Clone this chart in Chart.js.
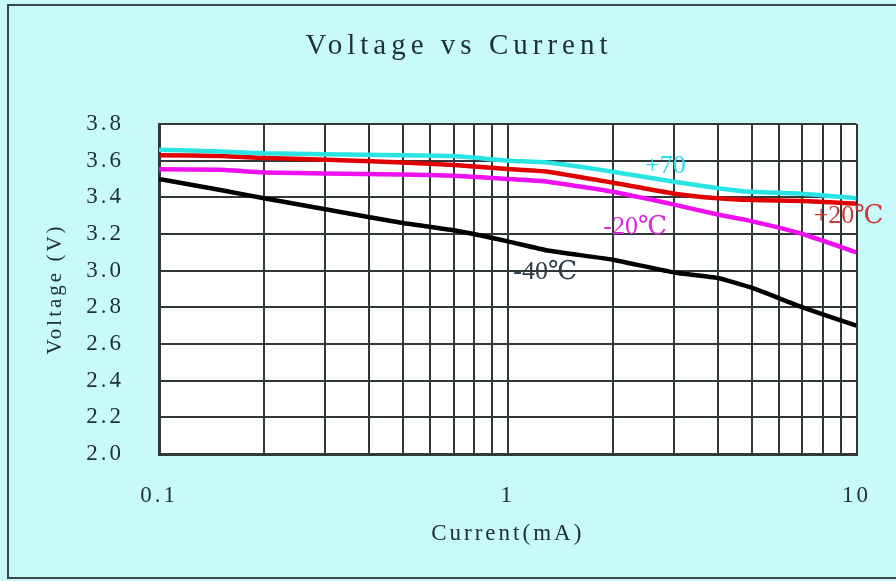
<!DOCTYPE html>
<html>
<head>
<meta charset="utf-8">
<script src="https://cdn.jsdelivr.net/npm/chart.js@4/dist/chart.umd.min.js"></script>
<style>
  html, body { margin: 0; padding: 0; background: #c8fafa; }
  #wrap { width: 896px; height: 581px; }
</style>
</head>
<body>
<div id="wrap"><canvas id="c" width="896" height="581"></canvas></div>
<script>
// ---- data ----
const currents = [0.1, 0.15, 0.2, 0.3, 0.5, 0.7, 1, 1.3, 2, 3, 4, 5, 7, 10];
const v_p70 = [3.66, 3.65, 3.64, 3.635, 3.63, 3.625, 3.60, 3.59, 3.54, 3.485, 3.45, 3.43, 3.42, 3.395];
const v_p20 = [3.63, 3.625, 3.615, 3.605, 3.59, 3.576, 3.555, 3.54, 3.48, 3.42, 3.395, 3.385, 3.38, 3.365];
const v_m20 = [3.553, 3.55, 3.536, 3.53, 3.525, 3.518, 3.50, 3.485, 3.43, 3.36, 3.306, 3.27, 3.20, 3.10];
const v_m40 = [3.50, 3.44, 3.395, 3.335, 3.26, 3.22, 3.16, 3.11, 3.06, 2.99, 2.96, 2.907, 2.80, 2.70];
const xTicks = [0.1, 0.2, 0.3, 0.4, 0.5, 0.6, 0.7, 0.8, 0.9, 1, 2, 3, 4, 5, 6, 7, 8, 9, 10];
const xTickLabels = ['0.1', '1', '10'];
const yMin = 2.0, yMax = 3.8, yStep = 0.2;
const chartTitle = 'Voltage vs Current';
const curveLabels = ['+70', '+20℃', '-20℃', '-40℃'];
const labelX = [2.83, 9.49, 2.32, 1.28];
const labelY = [3.571, 3.298, 3.238, 2.993];

const colors = ['#2ae4e4', '#e00000', '#ee10ee', '#000000'];
const labelColors = ['#30d8e8', '#c83838', '#d828d8', '#2c3c48'];
const seriesNames = ['+70℃', '+20℃', '-20℃', '-40℃'];
const seriesVals = [v_p70, v_p20, v_m20, v_m40];

const toPts = vals => currents.map((c, i) => ({x: c, y: vals[i]}));
const SERIF = '"Liberation Serif", "DejaVu Serif", serif';

const bgPlugin = {
  id: 'bg',
  beforeDraw(chart) {
    const {ctx, chartArea: a} = chart;
    ctx.save();
    ctx.fillStyle = '#c8fafa';
    ctx.fillRect(0, 0, chart.width, chart.height);
    ctx.strokeStyle = '#3a4848';
    ctx.lineWidth = 2;
    ctx.strokeRect(8, 5, chart.width + 10, 573);
    ctx.fillStyle = '#ffffff';
    ctx.fillRect(a.left, a.top, a.right - a.left, a.bottom - a.top);
    ctx.restore();
    // spaced serif look for axis text
    if ('letterSpacing' in ctx) ctx.letterSpacing = '3px';
  },
  afterDraw(chart) {
    const {ctx} = chart;
    const xs = chart.scales.x, ys = chart.scales.y;
    ctx.save();
    if ('letterSpacing' in ctx) ctx.letterSpacing = '5px';
    ctx.font = '29px ' + SERIF;
    ctx.fillStyle = '#203038';
    ctx.textAlign = 'center';
    ctx.textBaseline = 'middle';
    ctx.fillText(chartTitle, 459, 46);
    if ('letterSpacing' in ctx) ctx.letterSpacing = '0px';
    ctx.font = '26px ' + SERIF;
    curveLabels.forEach((t, i) => {
      ctx.fillStyle = labelColors[i];
      ctx.fillText(t, xs.getPixelForValue(labelX[i]), ys.getPixelForValue(labelY[i]));
    });
    ctx.restore();
  }
};

new Chart(document.getElementById('c'), {
  type: 'line',
  data: {
    datasets: seriesVals.map((v, i) => ({
      label: seriesNames[i],
      data: toPts(v),
      borderColor: colors[i],
      backgroundColor: colors[i],
      borderWidth: 4.5,
      pointRadius: 0,
      tension: 0.15,
      fill: false
    }))
  },
  options: {
    responsive: false,
    animation: false,
    devicePixelRatio: 1,
    layout: { padding: { left: 0, right: 37, top: 124, bottom: 0 } },
    plugins: {
      legend: { display: false },
      tooltip: { enabled: false },
      title: { display: false }
    },
    scales: {
      x: {
        type: 'logarithmic',
        min: 0.1,
        max: 10,
        afterBuildTicks(scale) { scale.ticks = xTicks.map(v => ({value: v})); },
        afterFit(scale) { scale.height = 127; },
        ticks: {
          autoSkip: false,
          maxRotation: 0,
          color: '#203038',
          padding: 28,
          font: { family: SERIF, size: 23 },
          callback(v) {
            const s = String(Math.round(v * 10) / 10);
            return xTickLabels.includes(s) ? s : '';
          }
        },
        grid: { color: '#303838', lineWidth: 2, drawTicks: false },
        border: { display: true, color: '#303838', width: 3 },
        title: {
          display: true,
          text: 'Current(mA)',
          color: '#203038',
          font: { family: SERIF, size: 23 },
          padding: { top: 0, bottom: 33 }
        }
      },
      y: {
        min: yMin,
        max: yMax,
        afterFit(scale) { scale.width = 159; },
        ticks: {
          stepSize: yStep,
          color: '#203038',
          padding: 35,
          font: { family: SERIF, size: 23 },
          callback(v) { return Number(v).toFixed(1); }
        },
        grid: { color: '#303838', lineWidth: 2, drawTicks: false },
        border: { display: true, color: '#303838', width: 3 },
        title: {
          display: true,
          text: 'Voltage (V)',
          color: '#203038',
          font: { family: SERIF, size: 21 },
          padding: { top: 43, bottom: 0 }
        }
      }
    }
  },
  plugins: [bgPlugin]
});
</script>
</body>
</html>
